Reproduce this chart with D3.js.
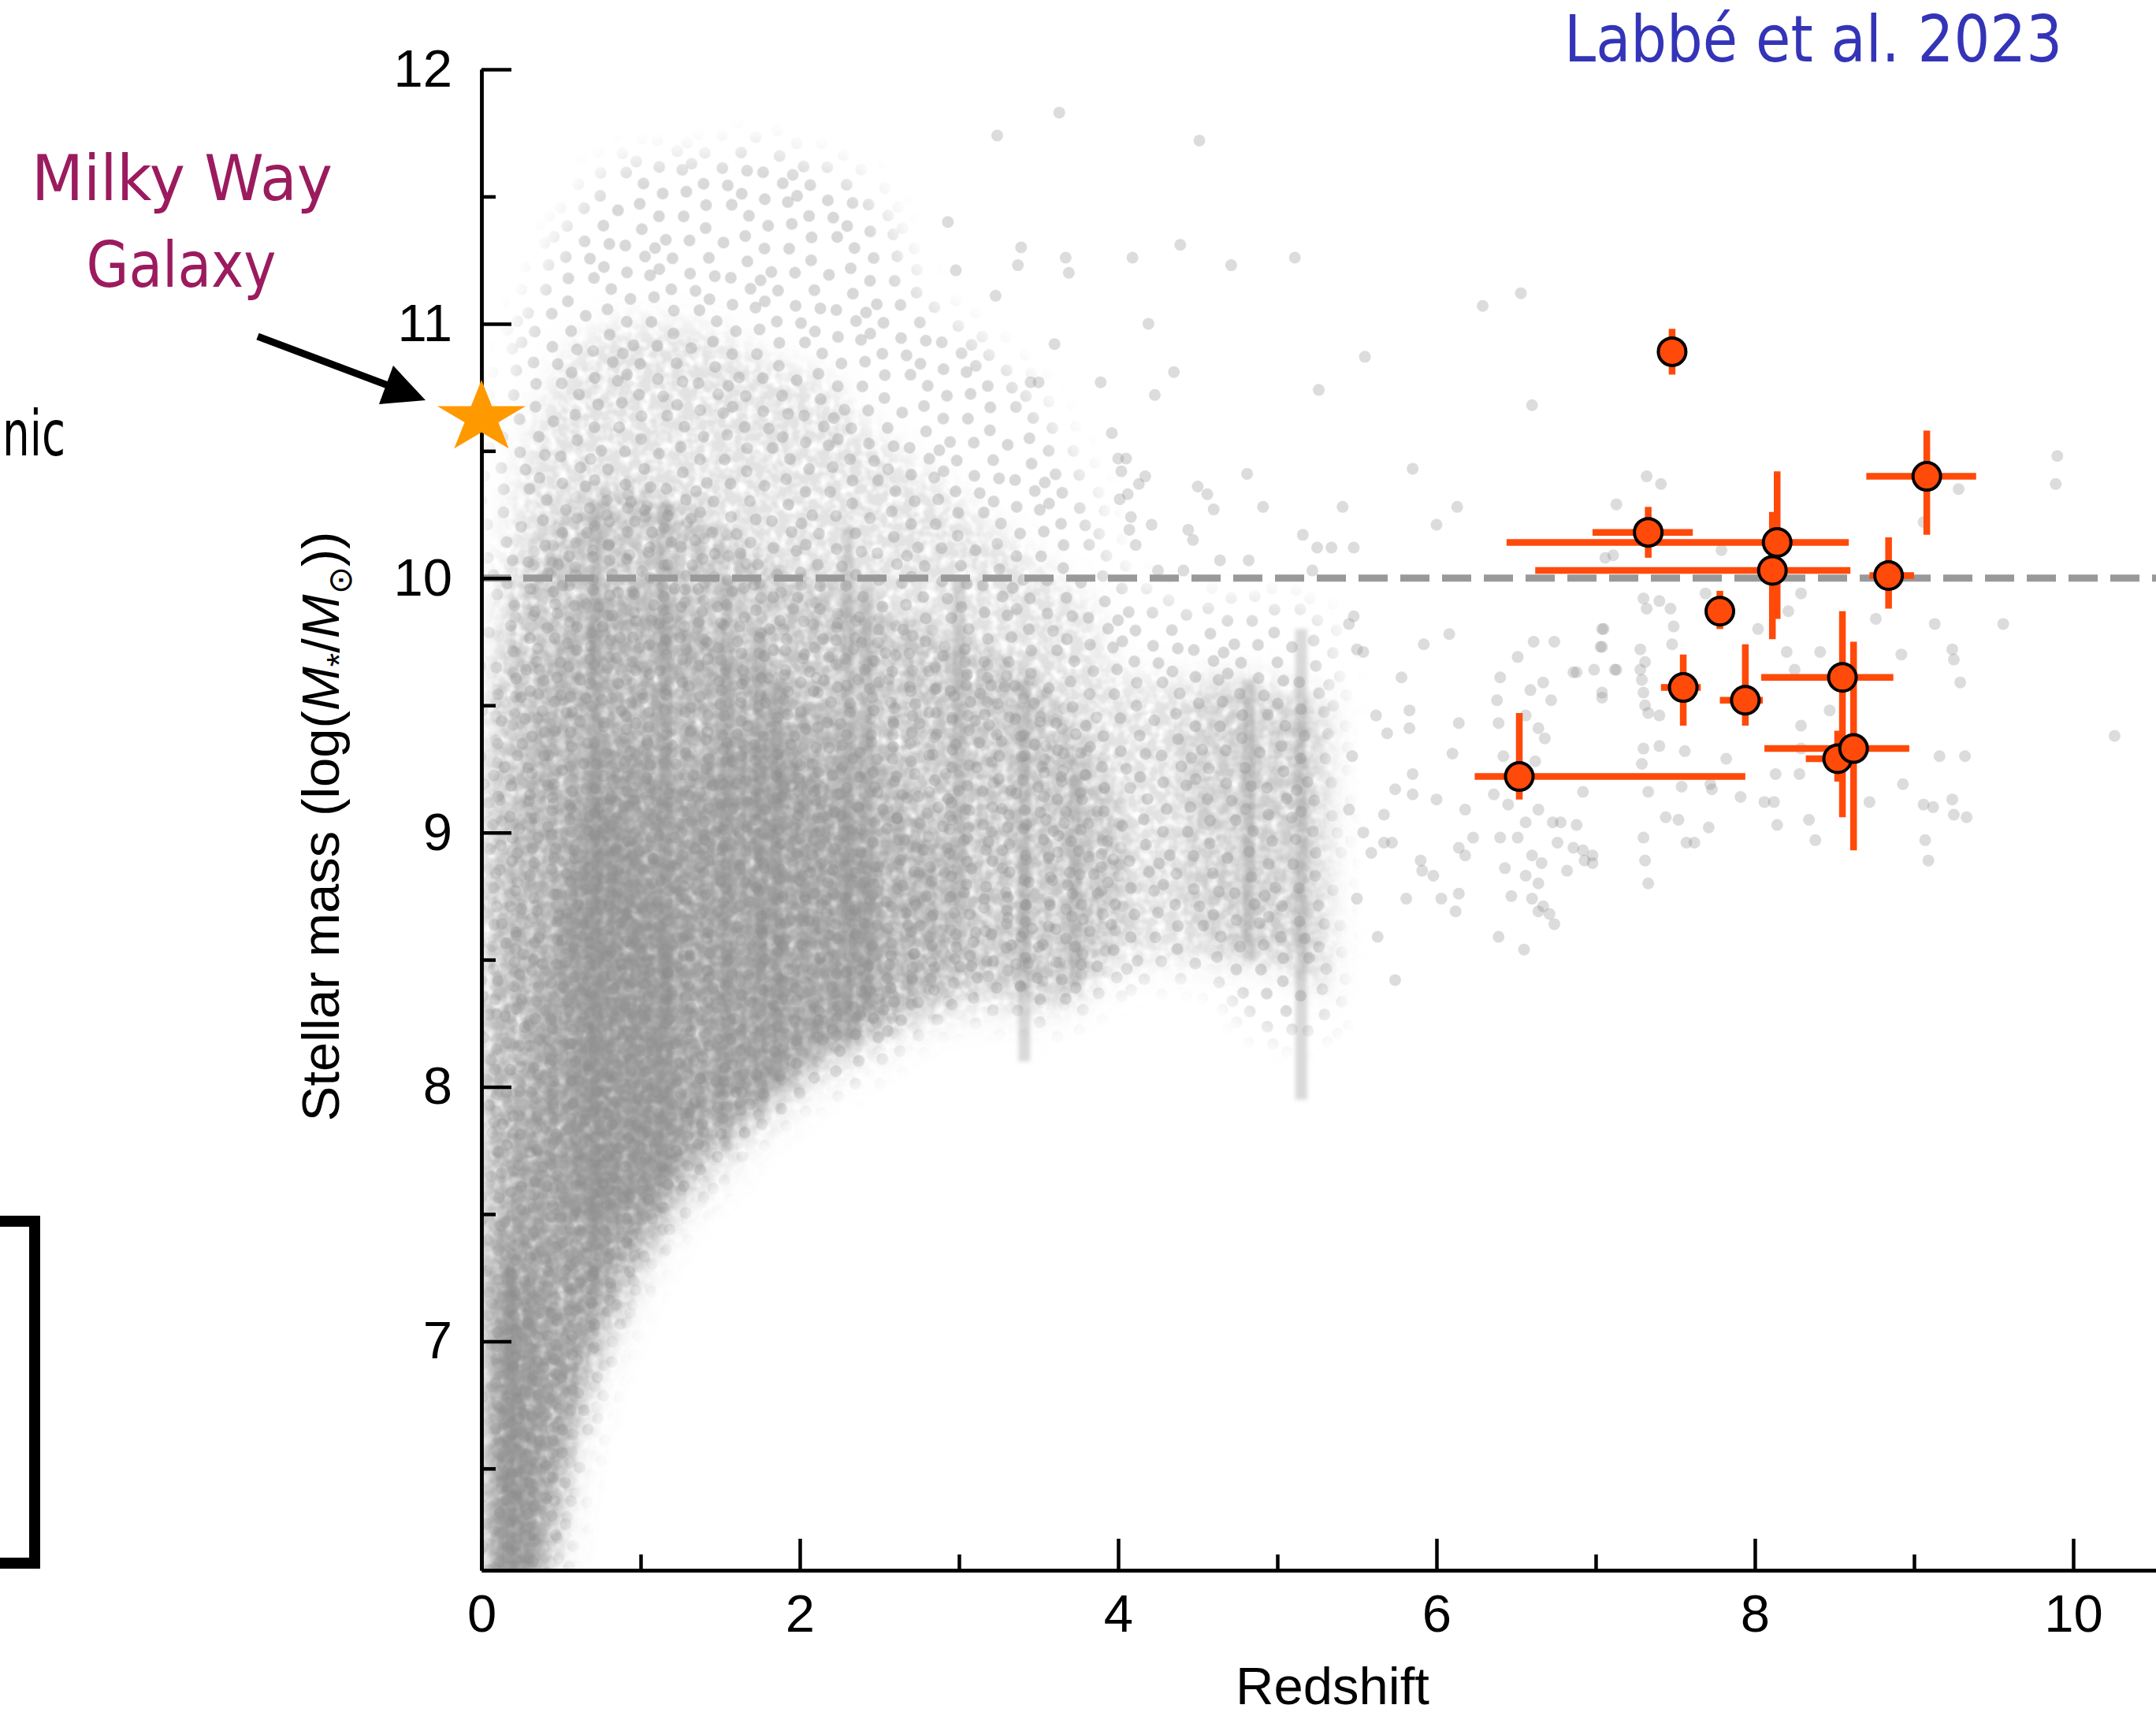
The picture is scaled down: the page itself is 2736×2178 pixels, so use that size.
<!DOCTYPE html>
<html lang="en">
<head>
<meta charset="utf-8">
<title>Stellar mass vs redshift</title>
<script src="https://d3js.org/d3.v7.min.js"></script>
<style>
  body { margin: 0; background: #fff; }
  .axis path, .axis line { stroke: #000; stroke-width: 4.5px; }
  .axis text { font-family: "Liberation Sans", Arial, sans-serif; font-size: 67px; fill: #000; }
  .hand { font-family: "Comic Sans MS", "DejaVu Sans", sans-serif; }
</style>
</head>
<body>
<svg width="2736" height="2178"></svg>
<script>
// ---------- data ----------
const zTicks = [0, 2, 4, 6, 8, 10];
const zMinor = [1, 3, 5, 7, 9];
const mTicks = [7, 8, 9, 10, 11, 12];
const mMinor = [6.5, 7.5, 8.5, 9.5, 10.5, 11.5];
const massCut = 10;
const milkyWay = [0, 10.63];

// Labbé et al. massive candidates
const jwsZ   = [7.48, 9.08, 7.33, 8.14, 8.11, 8.84, 7.78, 7.55, 7.94, 8.55, 8.52, 8.62, 6.52];
const jwsM   = [10.89, 10.40, 10.18, 10.14, 10.03, 10.01, 9.87, 9.57, 9.52, 9.61, 9.29, 9.33, 9.22];
const jwsZlo = [7.48, 8.70, 6.98, 6.44, 6.62, 8.72, 7.78, 7.41, 7.78, 8.04, 8.32, 8.06, 6.24];
const jwsZhi = [7.48, 9.39, 7.61, 8.59, 8.60, 9.00, 7.78, 7.66, 8.05, 8.87, 8.60, 8.97, 7.94];
const jwsMlo = [10.80, 10.17, 10.08, 9.84, 9.76, 9.88, 9.80, 9.42, 9.42, 9.06, 9.20, 8.93, 9.13];
const jwsMhi = [10.98, 10.58, 10.28, 10.42, 10.26, 10.16, 9.95, 9.70, 9.74, 9.87, 9.40, 9.75, 9.47];

// background field galaxies: density envelopes [z, mLow, mHigh], sparse -> dense
const haloEnv = [[0.0,5.9,9.5],[0.1,5.9,10.4],[0.25,5.9,10.95],[0.4,5.9,11.2],[0.6,6.45,11.45],[0.8,6.95,11.6],
  [1.1,7.35,11.65],[1.4,7.6,11.65],[1.7,7.8,11.7],[2.0,7.95,11.65],[2.4,8.05,11.55],[2.8,8.25,11.1],
  [3.2,8.3,10.9],[3.6,8.25,10.6],[3.85,8.35,10.3],[4.0,8.4,10.0],[4.5,8.45,9.9],[5.0,8.2,9.9],[5.35,8.25,9.8]];
const upperEnv = [[0.0,5.9,9.4],[0.2,5.9,10.3],[0.4,5.9,10.7],[0.6,6.55,10.9],[0.9,7.1,11.0],[1.2,7.45,11.0],
  [1.5,7.65,10.95],[1.8,7.85,10.85],[2.1,8.0,10.8],[2.4,8.1,10.6],[2.8,8.25,10.4],[3.2,8.3,10.2],
  [3.6,8.3,10.0],[3.85,8.4,9.85],[4.0,8.5,9.6],[4.4,8.5,9.6],[4.9,8.5,9.6],[5.3,8.35,9.5]];
const bodyEnv = [[0.0,5.9,8.8],[0.15,5.9,9.7],[0.35,5.9,10.1],[0.6,6.65,10.3],[0.9,7.15,10.35],[1.2,7.5,10.3],
  [1.5,7.75,10.2],[1.8,7.9,10.05],[2.1,8.1,10.0],[2.4,8.2,9.9],[2.8,8.3,9.8],[3.2,8.4,9.7],
  [3.5,8.35,9.6],[3.85,8.45,9.3],[4.05,8.6,9.0]];
const innerEnv = [[0.05,5.9,8.0],[0.2,5.9,9.0],[0.4,6.2,9.6],[0.6,6.75,9.9],[0.9,7.25,9.95],[1.2,7.55,9.9],
  [1.5,7.8,9.75],[1.8,7.95,9.65],[2.1,8.1,9.5],[2.4,8.2,9.4],[2.7,8.35,9.1],[3.0,8.5,8.9]];
const coreEnv = [[0.08,5.9,7.3],[0.25,5.9,7.8],[0.45,6.4,8.6],[0.6,6.85,9.2],[0.8,7.25,9.35],[1.0,7.4,9.35],
  [1.2,7.65,9.2],[1.5,7.9,9.3],[1.8,8.0,9.4],[2.1,8.15,9.2],[2.4,8.25,9.0],[2.5,8.3,8.7]];
const deepLeftEnv = [[0.08,5.9,6.8],[0.2,5.9,7.3],[0.34,6.2,7.1]];
const deepCoreEnv = [[0.55,7.45,8.7],[0.8,7.45,9.1],[1.0,7.55,8.9],[1.2,7.7,8.6]];
const midEnv = [[4.4,8.7,9.4],[4.7,8.5,9.6],[5.0,8.5,9.5],[5.3,8.4,9.5]];

// vertical streaks (photo-z pile-ups): [z, mLow, mHigh]
const streaks = [[0.18,6.1,7.3],[0.72,7.2,10.3],[1.15,7.6,10.3],[1.54,7.75,10.0],[1.75,7.9,9.8],[1.86,8.0,9.6],
  [2.3,8.15,10.2],[2.42,8.3,10.0],[3.0,8.7,10.0],[3.41,8.1,9.6],[3.73,8.4,9.3],[4.82,8.5,9.6],[5.15,7.95,9.8]];

// individually resolved field galaxies [z, m]
const haloPts = [[2.93,11.40],[2.98,11.21],[3.24,11.74],[3.39,11.30],[3.37,11.23],[3.67,11.26],[3.69,11.20],
  [3.63,11.83],[3.23,11.11],[3.45,10.77],[3.50,10.77],[3.60,10.92],[3.89,10.77],[3.96,10.57],[4.00,10.47],
  [4.51,11.72],[4.09,11.26],[4.39,11.31],[4.71,11.23],[5.11,11.26],[4.19,11.00],[6.53,11.12],[6.29,11.07],
  [4.35,10.81],[4.23,10.72],[5.55,10.87],[5.26,10.74],[6.60,10.68],[5.85,10.43],[4.81,10.41],[4.05,10.47],
  [4.02,10.42],[4.17,10.40],[4.13,10.37],[4.06,10.33],[4.01,10.31],[4.08,10.24],[4.07,10.19],[4.11,10.13],
  [4.50,10.36],[4.56,10.33],[4.60,10.27],[4.21,10.21],[4.44,10.19],[4.47,10.15],[4.91,10.28],[5.41,10.28],
  [6.13,10.28],[6.00,10.21],[5.16,10.17],[5.25,10.12],[5.34,10.12],[5.48,10.12],[4.64,10.07],[4.82,10.07],
  [4.25,10.03],[4.41,10.03],[5.22,10.03]];
const midPts = [[5.62,9.46],[5.69,9.39],[5.67,8.96],[5.74,8.42],[5.78,9.61],[5.83,9.41],[5.85,9.23],[5.90,8.89],
  [5.98,8.83],[6.03,8.74],[5.91,8.85],[5.72,8.96],[5.63,8.59],[5.50,8.74],[5.54,9.00],[5.45,9.09],[5.81,8.74],
  [5.59,8.92],[5.47,9.30],[5.85,9.15],[5.74,9.17],[5.67,9.07],[6.00,9.13],[6.08,9.78],[5.92,9.74],[5.83,9.48],
  [5.50,9.72],[5.54,9.71],[5.45,9.82],[5.48,9.85],
  [6.14,9.43],[6.18,9.09],[6.23,8.98],[6.12,8.69],[6.14,8.76],[6.10,9.31],[6.40,9.61],[6.38,9.52],[6.51,9.69],
  [6.61,9.75],[6.74,9.75],[6.59,9.56],[6.67,9.59],[6.72,9.52],[7.04,9.80],[7.03,9.73],[7.04,9.55],[6.86,9.63],
  [7.13,9.64],[6.39,9.43],[6.56,9.46],[6.64,9.41],[6.68,9.37],[6.42,9.30],[6.62,9.28],[6.36,9.15],[6.45,9.11],
  [6.56,9.04],[6.64,9.09],[6.73,9.04],[6.78,9.04],[6.40,8.98],[6.51,8.98],[6.60,8.91],[6.66,8.88],[6.76,8.96],
  [6.43,8.86],[6.56,8.83],[6.64,8.80],[6.60,8.74],[6.67,8.71],[6.71,8.68],[6.74,8.64],[6.64,8.69],[6.47,8.75],
  [6.39,8.59],[6.55,8.54],[6.93,8.89],[6.98,8.91],[6.82,8.85],[6.86,8.94],[6.14,8.94],[6.18,8.91]];
const highPts = [[7.32,10.40],[7.41,10.37],[7.13,10.29],[7.06,10.08],[9.90,10.48],[9.89,10.37],[9.28,10.35],
  [9.06,10.22],[7.79,10.11],[7.11,10.09],[7.30,9.92],[7.40,9.91],[7.32,9.88],[7.47,9.88],[7.69,9.94],[8.29,9.94],
  [8.21,9.87],[8.02,9.80],[7.05,9.80],[7.49,9.81],[8.76,9.84],[9.13,9.82],[9.56,9.82],[7.48,9.74],[7.28,9.72],
  [7.31,9.67],[7.28,9.64],[7.04,9.73],[6.99,9.64],[7.12,9.64],[6.88,9.63],[8.20,9.71],[8.41,9.71],[8.92,9.70],
  [9.24,9.72],[9.25,9.68],[9.29,9.59],[8.25,9.64],[7.30,9.55],[7.29,9.60],[7.04,9.53],[7.31,9.50],[7.33,9.47],
  [7.40,9.46],[8.29,9.42],[8.47,9.48],[7.30,9.33],[7.40,9.34],[7.56,9.32],[7.29,9.27],[7.82,9.29],[8.29,9.33],
  [9.16,9.30],[9.32,9.30],[8.13,9.23],[8.28,9.23],[6.92,9.16],[7.33,9.16],[7.54,9.18],[7.72,9.19],[7.73,9.17],
  [7.91,9.14],[8.06,9.12],[8.12,9.12],[8.93,9.19],[9.24,9.13],[9.25,9.07],[8.72,9.12],[9.06,9.11],[9.12,9.10],
  [9.33,9.06],[7.44,9.06],[7.52,9.05],[7.71,9.02],[8.14,9.03],[8.34,9.05],[7.30,8.98],[7.57,8.96],[7.62,8.96],
  [8.38,8.97],[9.07,8.97],[6.92,8.93],[6.98,8.88],[7.31,8.89],[9.09,8.89],[7.33,8.80],[10.26,9.38],[6.88,9.03]];

// ---------- layout ----------
const W = 2736, H = 2178;
const svg = d3.select("svg");
svg.append("rect").attr("width", W).attr("height", H).attr("fill", "#fff");

const x = d3.scaleLinear().domain([0, 10.52]).range([611, 2736]);
const y = d3.scaleLinear().domain([6.1, 12]).range([1993, 88]);
const grey = "#8c8c8c";

const defs = svg.append("defs");
defs.append("clipPath").attr("id", "plotClip")
  .append("rect").attr("x", x(0)).attr("y", y(12)).attr("width", W - x(0)).attr("height", y(6.1) - y(12));

// soft, mottled fill for the dense parts of the cloud
function cloudFilter(id, blur, seed) {
  const f = defs.append("filter").attr("id", id)
    .attr("filterUnits", "userSpaceOnUse").attr("x", 0).attr("y", 0).attr("width", W).attr("height", H);
  f.append("feGaussianBlur").attr("in", "SourceGraphic").attr("stdDeviation", blur).attr("result", "soft");
  f.append("feTurbulence").attr("type", "fractalNoise").attr("baseFrequency", 0.075)
    .attr("numOctaves", 2).attr("seed", seed).attr("result", "noise");
  f.append("feColorMatrix").attr("in", "noise").attr("type", "matrix")
    .attr("values", "0 0 0 0 0  0 0 0 0 0  0 0 0 0 0  2.6 0 0 0 -0.55").attr("result", "grain");
  f.append("feComposite").attr("in", "soft").attr("in2", "grain").attr("operator", "in");
}
defs.append("filter").attr("id", "edgeBlur")
  .attr("filterUnits", "userSpaceOnUse").attr("x", 0).attr("y", 0).attr("width", W).attr("height", H)
  .append("feGaussianBlur").attr("stdDeviation", 20);
defs.append("filter").attr("id", "streakBlur").attr("x", "-80%").attr("width", "260%")
  .append("feGaussianBlur").attr("stdDeviation", 2.5);

const area = d3.area()
  .x(d => x(d[0])).y0(d => y(d[1])).y1(d => y(d[2]))
  .curve(d3.curveMonotoneX);

// sparse outer halo: irregular dot texture faded by a blurred mask
const haloDots = [[12,10],[40,18],[70,9],[101,15],[128,26],[24,40],[57,44],[86,36],[116,50],[10,66],
  [38,72],[72,64],[99,76],[130,70],[22,98],[51,93],[82,102],[112,95],[9,124],[36,129],[64,118],
  [93,127],[124,117],[47,58],[60,82],[132,100]];
const pat = defs.append("pattern").attr("id", "haloPat").attr("patternUnits", "userSpaceOnUse")
  .attr("width", 140).attr("height", 140).attr("patternTransform", "rotate(17)");
pat.selectAll("circle").data(haloDots).join("circle")
  .attr("cx", d => d[0]).attr("cy", d => d[1]).attr("r", 7.5)
  .attr("fill", grey).attr("fill-opacity", 0.34);
const pat2 = defs.append("pattern").attr("id", "bodyPat").attr("patternUnits", "userSpaceOnUse")
  .attr("width", 140).attr("height", 140).attr("patternTransform", "rotate(-31) translate(33,51)");
pat2.selectAll("circle").data(haloDots).join("circle")
  .attr("cx", d => d[0]).attr("cy", d => d[1]).attr("r", 7.5)
  .attr("fill", grey).attr("fill-opacity", 0.3);

defs.append("mask").attr("id", "haloMask").attr("maskUnits", "userSpaceOnUse")
  .attr("x", 0).attr("y", 0).attr("width", W).attr("height", H)
  .append("path").attr("d", area(haloEnv)).attr("fill", "#fff").attr("filter", "url(#edgeBlur)");
defs.append("mask").attr("id", "bodyMask").attr("maskUnits", "userSpaceOnUse")
  .attr("x", 0).attr("y", 0).attr("width", W).attr("height", H)
  .append("path").attr("d", area(bodyEnv)).attr("fill", "#fff").attr("filter", "url(#edgeBlur)");

const cloud = svg.append("g").attr("clip-path", "url(#plotClip)");
cloud.append("rect").attr("x", x(0)).attr("y", y(12)).attr("width", W - x(0)).attr("height", y(6.1) - y(12))
  .attr("fill", "url(#haloPat)").attr("mask", "url(#haloMask)");

const solidLayers = [
  {env: upperEnv, op: 0.24, blur: 20},
  {env: bodyEnv, op: 0.36, blur: 13},
  {env: innerEnv, op: 0.4, blur: 12},
  {env: coreEnv, op: 0.5, blur: 11},
  {env: deepLeftEnv, op: 0.55, blur: 8},
  {env: deepCoreEnv, op: 0.5, blur: 11},
  {env: midEnv, op: 0.26, blur: 18}
];
solidLayers.forEach((s, i) => {
  cloudFilter("tex" + i, s.blur, 3 + i * 7);
  cloud.append("path").attr("d", area(s.env))
    .attr("fill", grey).attr("fill-opacity", s.op).attr("filter", "url(#tex" + i + ")");
});

cloud.append("rect").attr("x", x(0)).attr("y", y(12)).attr("width", W - x(0)).attr("height", y(6.1) - y(12))
  .attr("fill", "url(#bodyPat)").attr("mask", "url(#bodyMask)");

cloud.append("g").attr("filter", "url(#streakBlur)")
  .selectAll("rect").data(streaks).join("rect")
  .attr("x", d => x(d[0]) - 7.5).attr("width", 15)
  .attr("y", d => y(d[2])).attr("height", d => y(d[1]) - y(d[2]))
  .attr("fill", grey).attr("fill-opacity", 0.32);

cloud.append("g")
  .selectAll("circle").data(haloPts.concat(midPts, highPts)).join("circle")
  .attr("cx", d => x(d[0])).attr("cy", d => y(d[1])).attr("r", 7.5)
  .attr("fill", grey).attr("fill-opacity", 0.3);

// dashed 10^10 Msun line
svg.append("line")
  .attr("x1", x(0)).attr("x2", W).attr("y1", y(massCut)).attr("y2", y(massCut))
  .attr("stroke", "#999").attr("stroke-width", 9).attr("stroke-dasharray", "37,16");

// error bars + candidates
const idx = d3.range(jwsZ.length);
const eb = svg.append("g").attr("stroke", "#ff4a0a").attr("stroke-width", 8.5);
eb.selectAll("line.h").data(idx).join("line").attr("class", "h")
  .attr("x1", i => x(jwsZlo[i])).attr("x2", i => x(jwsZhi[i]))
  .attr("y1", i => y(jwsM[i])).attr("y2", i => y(jwsM[i]));
eb.selectAll("line.v").data(idx).join("line").attr("class", "v")
  .attr("x1", i => x(jwsZ[i])).attr("x2", i => x(jwsZ[i]))
  .attr("y1", i => y(jwsMlo[i])).attr("y2", i => y(jwsMhi[i]));
svg.append("g").selectAll("circle").data(idx).join("circle")
  .attr("cx", i => x(jwsZ[i])).attr("cy", i => y(jwsM[i])).attr("r", 17.5)
  .attr("fill", "#ff4a0a").attr("stroke", "#000").attr("stroke-width", 4);

// axes
const fmt = d3.format("d");
svg.append("g").attr("class", "axis")
  .attr("transform", "translate(0," + y(6.1) + ")")
  .call(d3.axisBottom(x).tickValues(zMinor).tickSizeInner(-20).tickSizeOuter(0).tickFormat(""));
svg.append("g").attr("class", "axis")
  .attr("transform", "translate(0," + y(6.1) + ")")
  .call(d3.axisBottom(x).tickValues(zTicks).tickSizeInner(-40).tickSizeOuter(0).tickPadding(30).tickFormat(fmt));
svg.append("g").attr("class", "axis")
  .attr("transform", "translate(" + x(0) + ",0)")
  .call(d3.axisLeft(y).tickValues(mMinor).tickSizeInner(-18).tickSizeOuter(0).tickFormat(""));
svg.append("g").attr("class", "axis")
  .attr("transform", "translate(" + x(0) + ",0)")
  .call(d3.axisLeft(y).tickValues(mTicks).tickSizeInner(-38).tickSizeOuter(0).tickPadding(37).tickFormat(fmt));

svg.append("text")
  .attr("x", 1691).attr("y", 2163).attr("text-anchor", "middle")
  .attr("font-family", "Liberation Sans, Arial, sans-serif").attr("font-size", 67)
  .text("Redshift");

const yl = svg.append("text")
  .attr("transform", "translate(430,1049) rotate(-90)")
  .attr("text-anchor", "middle")
  .attr("font-family", "Liberation Sans, Arial, sans-serif").attr("font-size", 67);
yl.append("tspan").text("Stellar mass (log(");
yl.append("tspan").attr("font-style", "italic").text("M");
yl.append("tspan").attr("font-size", 45).attr("dy", 16).text("*");
yl.append("tspan").attr("dy", -16).text("/");
yl.append("tspan").attr("font-style", "italic").text("M");
yl.append("tspan").attr("font-size", 42).attr("dy", 16).text("\u2299");
yl.append("tspan").attr("dy", -16).text("))");

// Milky Way star + annotation
svg.append("path")
  .attr("d", d3.symbol().type(d3.symbolStar).size(3908)())
  .attr("transform", "translate(" + x(milkyWay[0]) + "," + y(milkyWay[1]) + ") scale(1,0.815)")
  .attr("fill", "#ff9900");

svg.append("line").attr("x1", 327).attr("y1", 427).attr("x2", 492).attr("y2", 489)
  .attr("stroke", "#000").attr("stroke-width", 9);
svg.append("path").attr("d", "M540,508 L499,464 L481,513 Z").attr("fill", "#000");

svg.append("text").attr("class", "hand")
  .attr("x", 231).attr("y", 254).attr("text-anchor", "middle")
  .attr("font-size", 80).attr("fill", "#9b1b5e")
  .attr("textLength", 382).attr("lengthAdjust", "spacingAndGlyphs")
  .text("Milky Way");
svg.append("text").attr("class", "hand")
  .attr("x", 230).attr("y", 364).attr("text-anchor", "middle")
  .attr("font-size", 80).attr("fill", "#9b1b5e")
  .attr("textLength", 241).attr("lengthAdjust", "spacingAndGlyphs")
  .text("Galaxy");

svg.append("text").attr("class", "hand")
  .attr("x", 1985).attr("y", 78)
  .attr("font-size", 82).attr("fill", "#3434b8")
  .attr("textLength", 632).attr("lengthAdjust", "spacingAndGlyphs")
  .text("Labb\u00e9 et al. 2023");

// slide remnants at the left edge
svg.append("text").attr("class", "hand")
  .attr("x", 3).attr("y", 578)
  .attr("font-size", 80).attr("fill", "#000")
  .attr("textLength", 80).attr("lengthAdjust", "spacingAndGlyphs")
  .text("nic");
svg.append("path").attr("d", "M0,1550 H44 V1984 H0")
  .attr("fill", "none").attr("stroke", "#000").attr("stroke-width", 14);
</script>
</body>
</html>
